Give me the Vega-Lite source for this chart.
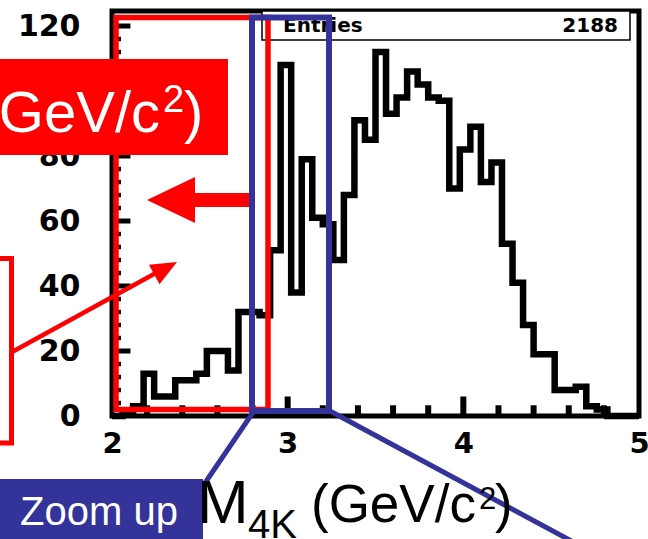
{
  "$schema": "https://vega.github.io/schema/vega-lite/v6.json",
  "width": 527,
  "height": 405,
  "autosize": {"type": "none"},
  "padding": {"left": 112, "top": 11, "right": 9, "bottom": 123},
  "background": "white",
  "config": {"view": {"stroke": "black", "strokeWidth": 5}},
  "datasets": {
    "hist": [
      {"m": 2.00, "n": 0}, {"m": 2.06, "n": 1}, {"m": 2.12, "n": 3}, {"m": 2.18, "n": 13},
      {"m": 2.24, "n": 6}, {"m": 2.30, "n": 6}, {"m": 2.36, "n": 11}, {"m": 2.42, "n": 11},
      {"m": 2.48, "n": 13}, {"m": 2.54, "n": 20}, {"m": 2.60, "n": 20}, {"m": 2.66, "n": 14},
      {"m": 2.72, "n": 32}, {"m": 2.78, "n": 32}, {"m": 2.84, "n": 31}, {"m": 2.90, "n": 51},
      {"m": 2.96, "n": 108}, {"m": 3.02, "n": 38}, {"m": 3.08, "n": 79}, {"m": 3.14, "n": 61},
      {"m": 3.20, "n": 59}, {"m": 3.26, "n": 48}, {"m": 3.32, "n": 68}, {"m": 3.38, "n": 91},
      {"m": 3.44, "n": 85}, {"m": 3.50, "n": 112}, {"m": 3.56, "n": 93}, {"m": 3.62, "n": 98},
      {"m": 3.68, "n": 106}, {"m": 3.74, "n": 102}, {"m": 3.80, "n": 98}, {"m": 3.86, "n": 97},
      {"m": 3.92, "n": 70}, {"m": 3.98, "n": 82}, {"m": 4.04, "n": 89}, {"m": 4.10, "n": 72},
      {"m": 4.16, "n": 78}, {"m": 4.22, "n": 53}, {"m": 4.28, "n": 41}, {"m": 4.34, "n": 28},
      {"m": 4.40, "n": 19}, {"m": 4.46, "n": 19}, {"m": 4.52, "n": 8}, {"m": 4.58, "n": 8},
      {"m": 4.64, "n": 9}, {"m": 4.70, "n": 3}, {"m": 4.76, "n": 2}, {"m": 4.82, "n": 0},
      {"m": 4.88, "n": 0}, {"m": 4.94, "n": 0}, {"m": 5.00, "n": 0}
    ],
    "xmajor": [{"t": 3}, {"t": 4}],
    "xminor": [
      {"t": 2.2}, {"t": 2.4}, {"t": 2.6}, {"t": 2.8}, {"t": 3.2}, {"t": 3.4},
      {"t": 3.6}, {"t": 3.8}, {"t": 4.2}, {"t": 4.4}, {"t": 4.6}, {"t": 4.8}
    ],
    "ymajor": [{"t": 20}, {"t": 40}, {"t": 60}, {"t": 80}, {"t": 100}, {"t": 120}],
    "yminor": [
      {"t": 4}, {"t": 8}, {"t": 12}, {"t": 16}, {"t": 24}, {"t": 28}, {"t": 32}, {"t": 36},
      {"t": 44}, {"t": 48}, {"t": 52}, {"t": 56}, {"t": 64}, {"t": 68}, {"t": 72}, {"t": 76},
      {"t": 84}, {"t": 88}, {"t": 92}, {"t": 96}, {"t": 104}, {"t": 108}, {"t": 112}, {"t": 116}
    ]
  },
  "layer": [
    {
      "data": {"name": "xmajor"},
      "mark": {"type": "rule", "stroke": "black", "strokeWidth": 6},
      "encoding": {
        "x": {"field": "t", "type": "quantitative", "scale": {"domain": [2, 5], "nice": false, "zero": false}},
        "y": {"datum": 6, "type": "quantitative"},
        "y2": {"datum": 0.01}
      }
    },
    {
      "data": {"name": "xminor"},
      "mark": {"type": "rule", "stroke": "black", "strokeWidth": 6},
      "encoding": {
        "x": {"field": "t", "type": "quantitative"},
        "y": {"datum": 3.3, "type": "quantitative"},
        "y2": {"datum": 0.01}
      }
    },
    {
      "data": {"name": "ymajor"},
      "mark": {"type": "rule", "stroke": "black", "strokeWidth": 5},
      "encoding": {
        "y": {"field": "t", "type": "quantitative", "scale": {"domain": [0, 124.62], "nice": false}},
        "x": {"datum": 2.001, "type": "quantitative"},
        "x2": {"datum": 2.105}
      }
    },
    {
      "data": {"name": "yminor"},
      "mark": {"type": "rule", "stroke": "black", "strokeWidth": 4.5},
      "encoding": {
        "y": {"field": "t", "type": "quantitative"},
        "x": {"datum": 2.001, "type": "quantitative"},
        "x2": {"datum": 2.051}
      }
    },
    {
      "data": {"name": "hist"},
      "mark": {"type": "line", "interpolate": "step-after", "stroke": "black", "strokeWidth": 6.5, "strokeJoin": "miter", "strokeCap": "butt"},
      "encoding": {
        "x": {
          "field": "m", "type": "quantitative",
          "scale": {"domain": [2, 5], "nice": false, "zero": false},
          "axis": {
            "values": [2, 3, 4, 5],
            "title": null, "domain": false, "grid": false, "ticks": false,
            "format": "d",
            "labelFont": "DejaVu Sans", "labelFontWeight": "bold", "labelFontSize": 29, "labelColor": "black",
            "labelPadding": 13, "labelFlush": false, "labelOverlap": false, "labelBound": false
          }
        },
        "y": {
          "field": "n", "type": "quantitative",
          "scale": {"domain": [0, 124.62], "nice": false},
          "axis": {
            "values": [0, 20, 40, 60, 80, 100, 120],
            "title": null, "domain": false, "grid": false, "ticks": false,
            "format": "d",
            "labelFont": "DejaVu Sans", "labelFontWeight": "bold", "labelFontSize": 30, "labelColor": "black",
            "labelPadding": 32, "labelFlush": false, "labelOverlap": false, "labelBound": false
          }
        }
      }
    },
    {
      "data": {"values": [{}]},
      "mark": {"type": "rect", "fill": "white", "stroke": "black", "strokeWidth": 1.5},
      "encoding": {
        "x": {"datum": 2.8539, "type": "quantitative"},
        "x2": {"datum": 4.9487},
        "y": {"datum": 124.62, "type": "quantitative"},
        "y2": {"datum": 115.69}
      }
    },
    {
      "data": {"values": [{}]},
      "mark": {"type": "text", "text": "Entries", "align": "left", "baseline": "alphabetic", "font": "DejaVu Sans", "fontWeight": "bold", "fontSize": 20, "color": "black"},
      "encoding": {
        "x": {"datum": 2.9734, "type": "quantitative"},
        "y": {"datum": 118.15, "type": "quantitative"}
      }
    },
    {
      "data": {"name": "hist"},
      "transform": [{"aggregate": [{"op": "sum", "field": "n", "as": "entries"}]}],
      "mark": {"type": "text", "align": "right", "baseline": "alphabetic", "font": "DejaVu Sans", "fontWeight": "bold", "fontSize": 20, "color": "black"},
      "encoding": {
        "x": {"datum": 4.8804, "type": "quantitative"},
        "y": {"datum": 118.15, "type": "quantitative"},
        "text": {"field": "entries", "type": "quantitative"}
      }
    },
    {
      "data": {"values": [{}]},
      "mark": {"type": "rect", "filled": false, "stroke": "#ff0000", "strokeWidth": 5.5},
      "encoding": {
        "x": {"datum": 2.0228, "type": "quantitative"},
        "x2": {"datum": 2.888},
        "y": {"datum": 2.0, "type": "quantitative"},
        "y2": {"datum": 122.62}
      }
    },
    {
      "data": {"values": [{}]},
      "mark": {"type": "rule", "stroke": "#ff0000", "strokeWidth": 14},
      "encoding": {
        "x": {"datum": 2.444, "type": "quantitative"},
        "x2": {"datum": 2.7913},
        "y": {"datum": 66.46, "type": "quantitative"}
      }
    },
    {
      "data": {"values": [{}]},
      "mark": {"type": "point", "shape": "M-1,0L1,-0.96L1,0.96Z", "size": 2304, "filled": true, "fill": "#ff0000", "strokeWidth": 0, "opacity": 1},
      "encoding": {
        "x": {"datum": 2.3359, "type": "quantitative"},
        "y": {"datum": 66.46, "type": "quantitative"}
      }
    },
    {
      "data": {"values": [{}]},
      "mark": {"type": "rect", "filled": false, "stroke": "#333399", "strokeWidth": 6},
      "encoding": {
        "x": {"datum": 2.797, "type": "quantitative"},
        "x2": {"datum": 3.2353},
        "y": {"datum": 1.54, "type": "quantitative"},
        "y2": {"datum": 122.62}
      }
    },
    {
      "data": {"values": [{}]},
      "mark": {"type": "rule", "stroke": "#333399", "strokeWidth": 5},
      "encoding": {
        "x": {"datum": 2.8083, "type": "quantitative"},
        "x2": {"datum": 2.444},
        "y": {"datum": 1.54, "type": "quantitative"},
        "y2": {"datum": -27.38}
      }
    },
    {
      "data": {"values": [{}]},
      "mark": {"type": "rule", "stroke": "#333399", "strokeWidth": 5},
      "encoding": {
        "x": {"datum": 3.241, "type": "quantitative"},
        "x2": {"datum": 4.721},
        "y": {"datum": 1.54, "type": "quantitative"},
        "y2": {"datum": -41.54}
      }
    },
    {
      "data": {"values": [{}]},
      "mark": {"type": "rect", "fill": "#333399"},
      "encoding": {
        "x": {"datum": 1.1917, "type": "quantitative"},
        "x2": {"datum": 2.518},
        "y": {"datum": -19.38, "type": "quantitative"},
        "y2": {"datum": -44.31}
      }
    },
    {
      "data": {"values": [{}]},
      "mark": {"type": "text", "text": "Zoom up", "align": "center", "baseline": "alphabetic", "font": "Liberation Sans", "fontSize": 40, "color": "white"},
      "encoding": {
        "x": {"datum": 1.926, "type": "quantitative"},
        "y": {"datum": -33.54, "type": "quantitative"}
      }
    },
    {
      "data": {"values": [{}]},
      "mark": {"type": "text", "text": "M", "align": "left", "baseline": "alphabetic", "font": "Liberation Sans", "fontSize": 62, "color": "black"},
      "encoding": {
        "x": {"datum": 2.4839, "type": "quantitative"},
        "y": {"datum": -32.92, "type": "quantitative"}
      }
    },
    {
      "data": {"values": [{}]},
      "mark": {"type": "text", "text": "4K", "align": "left", "baseline": "alphabetic", "font": "Liberation Sans", "fontSize": 40, "color": "black"},
      "encoding": {
        "x": {"datum": 2.7742, "type": "quantitative"},
        "y": {"datum": -37.6, "type": "quantitative"}
      }
    },
    {
      "data": {"values": [{}]},
      "mark": {"type": "text", "text": "(GeV/c", "align": "left", "baseline": "alphabetic", "font": "Liberation Sans", "fontSize": 53, "color": "black"},
      "encoding": {
        "x": {"datum": 3.1328, "type": "quantitative"},
        "y": {"datum": -32.62, "type": "quantitative"}
      }
    },
    {
      "data": {"values": [{}]},
      "mark": {"type": "text", "text": "2", "align": "left", "baseline": "alphabetic", "font": "Liberation Sans", "fontSize": 31, "color": "black"},
      "encoding": {
        "x": {"datum": 4.0891, "type": "quantitative"},
        "y": {"datum": -28.62, "type": "quantitative"}
      }
    },
    {
      "data": {"values": [{}]},
      "mark": {"type": "text", "text": ")", "align": "left", "baseline": "alphabetic", "font": "Liberation Sans", "fontSize": 53, "color": "black"},
      "encoding": {
        "x": {"datum": 4.1802, "type": "quantitative"},
        "y": {"datum": -32.62, "type": "quantitative"}
      }
    },
    {
      "data": {"values": [{}]},
      "mark": {"type": "rect", "fill": "#ff0000"},
      "encoding": {
        "x": {"datum": 1.1917, "type": "quantitative"},
        "x2": {"datum": 2.6603},
        "y": {"datum": 109.85, "type": "quantitative"},
        "y2": {"datum": 80.31}
      }
    },
    {
      "data": {"values": [{}]},
      "mark": {"type": "text", "text": "GeV/c", "align": "right", "baseline": "alphabetic", "font": "Liberation Sans", "fontSize": 58, "color": "white"},
      "encoding": {
        "x": {"datum": 2.2732, "type": "quantitative"},
        "y": {"datum": 87.38, "type": "quantitative"}
      }
    },
    {
      "data": {"values": [{}]},
      "mark": {"type": "text", "text": "2", "align": "left", "baseline": "alphabetic", "font": "Liberation Sans", "fontSize": 38, "color": "white"},
      "encoding": {
        "x": {"datum": 2.2903, "type": "quantitative"},
        "y": {"datum": 93.54, "type": "quantitative"}
      }
    },
    {
      "data": {"values": [{}]},
      "mark": {"type": "text", "text": ")", "align": "left", "baseline": "alphabetic", "font": "Liberation Sans", "fontSize": 58, "color": "white"},
      "encoding": {
        "x": {"datum": 2.4099, "type": "quantitative"},
        "y": {"datum": 87.38, "type": "quantitative"}
      }
    },
    {
      "data": {"values": [{}]},
      "mark": {"type": "rect", "filled": false, "stroke": "#ff0000", "strokeWidth": 5},
      "encoding": {
        "x": {"datum": 1.1917, "type": "quantitative"},
        "x2": {"datum": 1.4279},
        "y": {"datum": -8.31, "type": "quantitative"},
        "y2": {"datum": 48.46}
      }
    },
    {
      "data": {"values": [{}]},
      "mark": {"type": "rule", "stroke": "#ff0000", "strokeWidth": 4.5},
      "encoding": {
        "x": {"datum": 1.4308, "type": "quantitative"},
        "x2": {"datum": 2.2732},
        "y": {"datum": 19.69, "type": "quantitative"},
        "y2": {"datum": 44.68}
      }
    },
    {
      "data": {"values": [{}]},
      "mark": {"type": "point", "shape": "M1,0L-1,-0.85L-1,0.85Z", "size": 676, "angle": 331.3, "filled": true, "fill": "#ff0000", "strokeWidth": 0, "opacity": 1},
      "encoding": {
        "x": {"datum": 2.3051, "type": "quantitative"},
        "y": {"datum": 45.45, "type": "quantitative"}
      }
    }
  ]
}
